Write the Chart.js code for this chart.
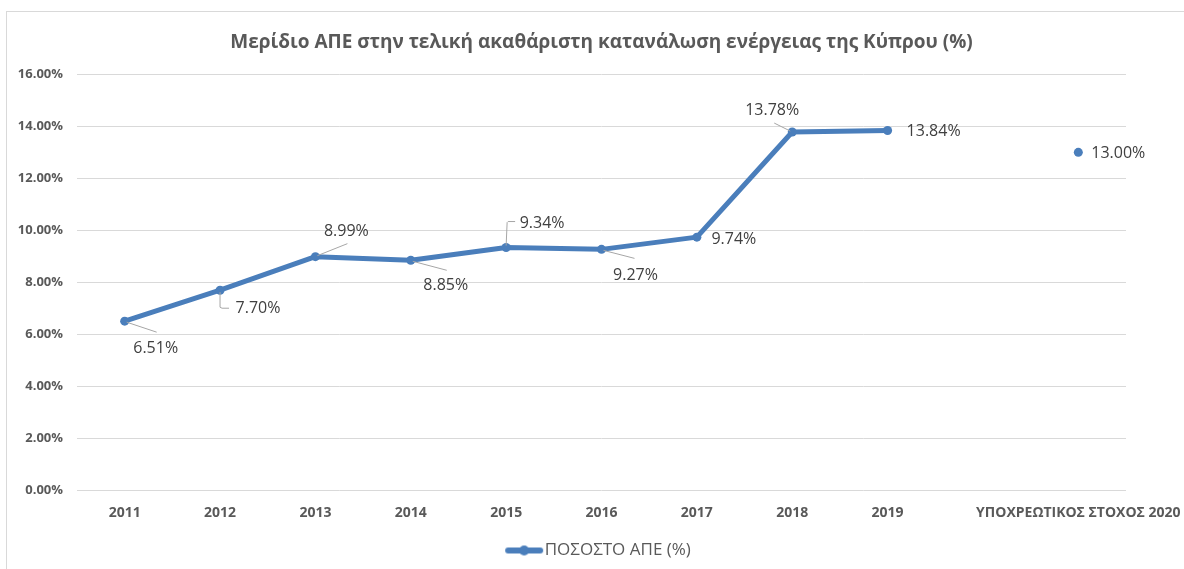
<!DOCTYPE html>
<html>
<head>
<meta charset="utf-8">
<script src="https://cdn.jsdelivr.net/npm/chart.js@4/dist/chart.umd.min.js"></script>
<style>
  html, body { margin: 0; padding: 0; background: #ffffff; }
  #wrap { position: relative; width: 1184px; height: 569px; }
</style>
</head>
<body>
<div id="wrap"><canvas id="c" width="1184" height="569"></canvas></div>
<script>
// ---- data ----
const categories = ['2011', '2012', '2013', '2014', '2015', '2016', '2017', '2018', '2019', '', 'ΥΠΟΧΡΕΩΤΙΚΟΣ ΣΤΟΧΟΣ 2020'];
const shareValues = [6.51, 7.70, 8.99, 8.85, 9.34, 9.27, 9.74, 13.78, 13.84, null, 13.00];
const yTicks = [0, 2, 4, 6, 8, 10, 12, 14, 16];
const seriesName = 'ΠΟΣΟΣΤΟ ΑΠΕ (%)';
const chartTitle = 'Μερίδιο ΑΠΕ στην τελική ακαθάριστη κατανάλωση ενέργειας της Κύπρου (%)';

// ---- styles ----
const FONT = "'Open Sans', 'Noto Sans', sans-serif";
const BLUE = '#4a7ebb';
const AXIS_TEXT = '#595959';
const LABEL_TEXT = '#404040';
const GRID = '#d9d9d9';
// label centre offsets (px) relative to each point, and leader polylines
const labelOffsets = [[31, 27], [38, 18], [31, -25], [35, 25], [36, -24], [34, 26], [37, 2], [-20, -22], [46, 1], null, [40, 1]];
const leaders = [
  [[2, 1], [32, 11]],
  [[0, 2], [0, 17], [2, 18], [9, 18]],
  [[2, -1], [32, -13]],
  [[2, 1], [36, 10]],
  [[0, -2], [1, -25], [2, -26], [9, -26]],
  [[2, 1], [33, 9]],
  null,
  [[-2, -1], [-18, -9]],
  null, null, null
];

// legend marker image
const marker = document.createElement('canvas');
marker.width = 40; marker.height = 12;
(function () {
  const g = marker.getContext('2d');
  g.strokeStyle = BLUE; g.lineWidth = 6; g.lineCap = 'round';
  g.beginPath(); g.moveTo(4, 6); g.lineTo(36, 6); g.stroke();
  g.fillStyle = BLUE; g.beginPath(); g.arc(20, 6, 5, 0, Math.PI * 2); g.fill();
})();

const borderPlugin = {
  id: 'outerBorder',
  beforeDraw(chart) {
    const ctx = chart.ctx;
    ctx.save();
    ctx.strokeStyle = '#d9d9d9';
    ctx.lineWidth = 1;
    ctx.strokeRect(6.5, 11.5, 1300, 700);
    ctx.restore();
  }
};

const labelPlugin = {
  id: 'dataLabels',
  afterDatasetsDraw(chart) {
    const ctx = chart.ctx;
    const meta = chart.getDatasetMeta(0);
    ctx.save();
    meta.data.forEach((pt, i) => {
      const v = shareValues[i];
      if (v === null || v === undefined) return;
      const x = pt.x, y = pt.y;
      const lines = leaders[i];
      if (lines) {
        ctx.strokeStyle = '#a6a6a6';
        ctx.lineWidth = 1;
        ctx.beginPath();
        lines.forEach((p, k) => {
          if (k === 0) ctx.moveTo(x + p[0], y + p[1]); else ctx.lineTo(x + p[0], y + p[1]);
        });
        ctx.stroke();
      }
      const off = labelOffsets[i];
      ctx.fillStyle = LABEL_TEXT;
      ctx.font = '16px ' + FONT;
      ctx.textAlign = 'center';
      ctx.textBaseline = 'middle';
      ctx.fillText(v.toFixed(2) + '%', x + off[0], y + off[1]);
    });
    ctx.restore();
  }
};

new Chart(document.getElementById('c'), {
  type: 'line',
  data: {
    labels: categories,
    datasets: [{
      label: seriesName,
      data: shareValues,
      borderColor: BLUE,
      backgroundColor: BLUE,
      borderWidth: 5,
      pointStyle: 'circle',
      pointRadius: 4.5,
      pointHoverRadius: 4.5,
      pointBackgroundColor: BLUE,
      pointBorderColor: BLUE,
      pointBorderWidth: 0,
      spanGaps: false,
      tension: 0,
      borderJoinStyle: 'round',
      borderCapStyle: 'round'
    }]
  },
  options: {
    responsive: false,
    animation: false,
    events: [],
    layout: { padding: { left: 0, right: 58, top: 0, bottom: 0 } },
    scales: {
      x: {
        offset: true,
        grid: { display: false, drawTicks: false, offset: true },
        border: { display: false },
        ticks: {
          autoSkip: false, maxRotation: 0, minRotation: 0,
          padding: 14,
          color: AXIS_TEXT,
          font: { family: FONT, size: 14, weight: 'bold' }
        },
        afterFit(s) { s.height = 41.5; s.paddingLeft = 0; s.paddingRight = 0; }
      },
      y: {
        min: 0, max: 16,
        afterBuildTicks(s) { s.ticks = yTicks.map(v => ({ value: v })); },
        grid: { color: GRID, lineWidth: 1, drawTicks: false },
        border: { display: false },
        ticks: {
          padding: 14,
          color: AXIS_TEXT,
          font: { family: FONT, size: 13, weight: 'bold' },
          callback: v => v.toFixed(2) + '%'
        },
        afterFit(s) { s.width = 77; s.paddingTop = 0; s.paddingBottom = 0; }
      }
    },
    plugins: {
      title: {
        display: true,
        fullSize: false,
        text: chartTitle,
        color: AXIS_TEXT,
        font: { family: FONT, size: 19, weight: 'bold' },
        padding: { top: 31.5, bottom: 20 }
      },
      legend: {
        position: 'bottom',
        fullSize: false,
        labels: {
          usePointStyle: true,
          pointStyleWidth: 24,
          color: AXIS_TEXT,
          font: { family: FONT, size: 17 },
          padding: 10,
          generateLabels(chart) {
            return [{
              text: seriesName,
              fillStyle: BLUE,
              strokeStyle: BLUE,
              lineWidth: 0,
              pointStyle: marker,
              datasetIndex: 0,
              fontColor: AXIS_TEXT
            }];
          }
        }
      },
      tooltip: { enabled: false }
    }
  },
  plugins: [borderPlugin, labelPlugin]
});
</script>
</body>
</html>
